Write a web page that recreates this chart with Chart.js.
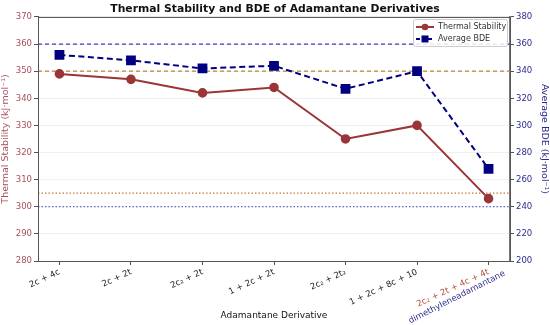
<!DOCTYPE html>
<html>
<head>
<meta charset="utf-8">
<script src="https://cdn.jsdelivr.net/npm/chart.js"></script>
<style>
  html, body { margin: 0; padding: 0; background: #fff; }
  #wrap { width: 550px; height: 325px; }
</style>
</head>
<body>
<div id="wrap"><canvas id="chart"></canvas></div>
<script>
// data
const derivatives = ['2c + 4c', '2c + 2t', '2c\u2082 + 2t', '1 + 2c + 2t', '2c\u2082 + 2t\u2082', '1 + 2c + 8c + 10', '2c\u2082 + 2t + 4c + 4t'];
const lastSubLabel = 'dimethyleneadamantane';
const thermalStability = [349, 347, 342, 344, 325, 330, 303];
const averageBDE = [352, 348, 342, 344, 327, 340, 268];
const leftTicks = [280, 290, 300, 310, 320, 330, 340, 350, 360, 370];
const rightTicks = [200, 220, 240, 260, 280, 300, 320, 340, 360, 380];
// reference lines: [value, axis, colour, dash]
const refLines = [
    [360, 'y', '#3b3bc4', [4, 3]],
    [350, 'y', '#b8863a', [4, 3]],
    [305, 'y', '#c8783a', [1.5, 2]],
    [300, 'y', '#4040d0', [1.5, 2]]
];

const FONT = "'DejaVu Sans', sans-serif";
const RED = '#9a3538';
const RED_TXT = '#a8505e';
const NAVY = '#000080';
const NAVY_TXT = '#2c2c8c';
const xMin = -0.3, xMax = derivatives.length - 1 + 0.3;

const pts = arr => arr.map((v, i) => ({ x: i, y: v }));

const refSets = refLines.map(([v, axis, color, dash]) => ({
    label: 'ref' + v,
    data: [{ x: xMin, y: v }, { x: xMax, y: v }],
    yAxisID: axis,
    borderColor: color,
    borderWidth: 1.2,
    borderDash: dash,
    pointRadius: 0,
    fill: false,
    order: 5
}));

// box around the plot + second line of last tick + legend inside the plot
const framePlugin = {
    id: 'frame',
    afterDraw(chart) {
        const { ctx, chartArea: a, scales } = chart;
        ctx.save();
        ctx.strokeStyle = '#555';
        ctx.lineWidth = 1;
        ctx.strokeRect(a.left + 0.5, a.top + 0.5, a.right - a.left, a.bottom - a.top);

        // second line of last category label
        const xs = scales.x;
        const px = xs.getPixelForValue(derivatives.length - 1);
        ctx.translate(px + 16, a.bottom + 12);
        ctx.rotate(-27 * Math.PI / 180);
        ctx.font = '8.5px ' + FONT;
        ctx.fillStyle = NAVY_TXT;
        ctx.textAlign = 'right';
        ctx.textBaseline = 'middle';
        ctx.fillText(lastSubLabel, 0, 0);
        ctx.restore();

        // legend
        ctx.save();
        const lx = a.right - 97, ly = a.top + 2, lw = 94, lh = 27;
        ctx.fillStyle = 'rgba(255,255,255,0.85)';
        ctx.strokeStyle = '#ccc';
        ctx.lineWidth = 1;
        ctx.beginPath();
        ctx.roundRect(lx + 0.5, ly + 0.5, lw, lh, 2);
        ctx.fill();
        ctx.stroke();
        const items = [
            { text: 'Thermal Stability', color: RED, dash: [], shape: 'circle' },
            { text: 'Average BDE', color: NAVY, dash: [4, 2], shape: 'rect' }
        ];
        items.forEach((it, k) => {
            const cy = ly + 8 + k * 12;
            ctx.strokeStyle = it.color;
            ctx.lineWidth = 2;
            ctx.setLineDash(it.dash);
            ctx.beginPath();
            ctx.moveTo(lx + 3, cy);
            ctx.lineTo(lx + 21, cy);
            ctx.stroke();
            ctx.setLineDash([]);
            ctx.fillStyle = it.color;
            if (it.shape === 'circle') {
                ctx.beginPath();
                ctx.arc(lx + 12, cy, 3.3, 0, Math.PI * 2);
                ctx.fill();
            } else {
                ctx.fillRect(lx + 8.5, cy - 3.5, 7, 7);
            }
            ctx.fillStyle = '#333';
            ctx.font = '8px ' + FONT;
            ctx.textAlign = 'left';
            ctx.textBaseline = 'middle';
            ctx.fillText(it.text, lx + 25, cy);
        });
        ctx.restore();
    }
};

new Chart(document.getElementById('chart'), {
    type: 'line',
    data: {
        datasets: [
            {
                label: 'Thermal Stability',
                data: pts(thermalStability),
                yAxisID: 'y',
                borderColor: RED,
                backgroundColor: RED,
                borderWidth: 2,
                pointRadius: 3.8,
                pointStyle: 'circle',
                order: 1
            },
            {
                label: 'Average BDE',
                data: pts(averageBDE),
                yAxisID: 'y2',
                borderColor: NAVY,
                backgroundColor: NAVY,
                borderWidth: 2,
                borderDash: [6, 3.5],
                pointRadius: 5.5,
                pointStyle: 'rect',
                order: 0
            },
            ...refSets
        ]
    },
    options: {
        responsive: true,
        maintainAspectRatio: false,
        animation: false,
        layout: { padding: 0 },
        plugins: {
            legend: { display: false },
            tooltip: { enabled: false },
            title: {
                display: true,
                text: 'Thermal Stability and BDE of Adamantane Derivatives',
                color: '#111',
                font: { family: FONT, size: 10.8, weight: 'bold' },
                padding: { top: 3, bottom: 1 }
            }
        },
        scales: {
            x: {
                type: 'linear',
                min: xMin,
                max: xMax,
                afterBuildTicks: s => { s.ticks = derivatives.map((_, i) => ({ value: i })); },
                afterFit: s => { s.height = 64; },
                ticks: {
                    callback: v => derivatives[v],
                    minRotation: 25,
                    maxRotation: 25,
                    autoSkip: false,
                    padding: 2,
                    color: ctx => ctx.index === derivatives.length - 1 ? '#b0503a' : '#222',
                    font: { family: FONT, size: 8.5 }
                },
                grid: { drawOnChartArea: false, tickLength: 4, color: '#555' },
                border: { color: '#555' },
                title: {
                    display: true,
                    text: 'Adamantane Derivative',
                    color: '#111',
                    font: { family: FONT, size: 9 },
                    padding: { top: 0, bottom: 4 }
                }
            },
            y: {
                position: 'left',
                min: 280,
                max: 370,
                afterBuildTicks: s => { s.ticks = leftTicks.map(v => ({ value: v })); },
                afterFit: s => { s.width = 38; },
                ticks: {
                    color: RED_TXT,
                    font: { family: FONT, size: 8.5 },
                    padding: 2
                },
                grid: { color: '#f0f0f0', tickColor: '#555', tickLength: 4 },
                border: { color: '#555' },
                title: {
                    display: true,
                    text: 'Thermal Stability (kJ\u00b7mol\u207b\u00b9)',
                    color: RED_TXT,
                    font: { family: FONT, size: 9.5 },
                    padding: { top: 0, bottom: 0 }
                }
            },
            y2: {
                position: 'right',
                min: 200,
                max: 380,
                afterBuildTicks: s => { s.ticks = rightTicks.map(v => ({ value: v })); },
                afterFit: s => { s.width = 40; },
                ticks: {
                    color: NAVY_TXT,
                    font: { family: FONT, size: 8.5 },
                    padding: 2
                },
                grid: { drawOnChartArea: false, color: '#555', tickLength: 4 },
                border: { color: '#777', width: 1.5 },
                title: {
                    display: true,
                    text: 'Average BDE (kJ\u00b7mol\u207b\u00b9)',
                    color: NAVY_TXT,
                    font: { family: FONT, size: 9.5 },
                    padding: { top: 0, bottom: 0 }
                }
            }
        }
    },
    plugins: [framePlugin]
});
</script>
</body>
</html>
